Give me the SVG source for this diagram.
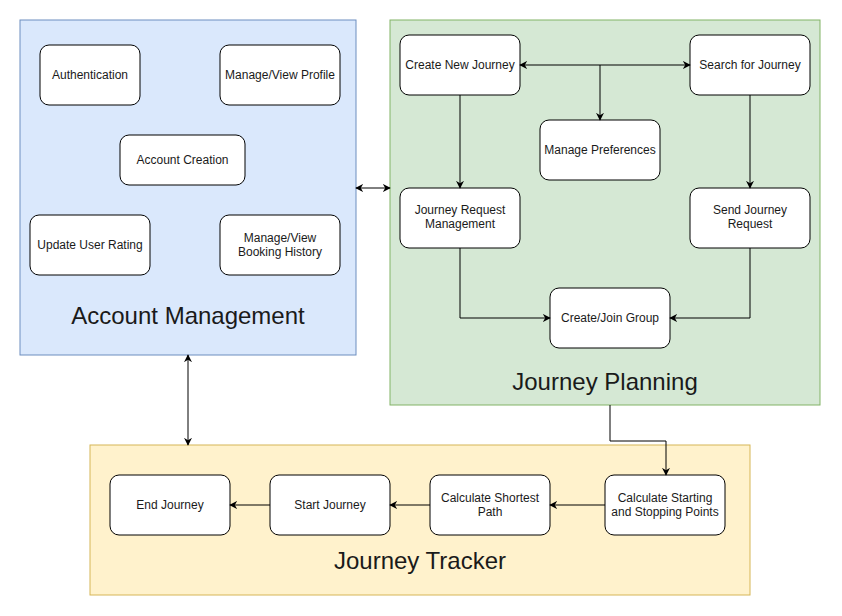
<svg xmlns="http://www.w3.org/2000/svg" width="842" height="616" viewBox="0 0 842 616">
<style>
.node rect{fill:#fff;stroke:#000;stroke-width:1}
.node text{font-family:"Liberation Sans",Arial,sans-serif;font-size:12px;fill:#1a1a1a;text-anchor:middle}
.title{font-family:"Liberation Sans",Arial,sans-serif;font-size:24px;fill:#1a1a1a;text-anchor:middle}
.edge{fill:none;stroke:#000;stroke-width:1}
</style>
<defs>
<marker id="arr" viewBox="0 0 10 10" refX="9" refY="5" markerWidth="8" markerHeight="8" orient="auto-start-reverse" markerUnits="userSpaceOnUse">
<path d="M0,0 L10,5 L0,10 L3,5 Z" fill="#000"/>
</marker>
</defs>
<rect width="842" height="616" fill="#fff"/>
<g id="account-management">
<rect x="20" y="20" width="336" height="335" fill="#dae8fc" stroke="#6c8ebf"/>
<text class="title" x="188" y="324">Account Management</text>
</g>
<g id="journey-planning">
<rect x="390" y="20" width="430" height="385" fill="#d5e8d4" stroke="#82b366"/>
<text class="title" x="605" y="390">Journey Planning</text>
</g>
<g id="journey-tracker">
<rect x="90" y="445" width="660" height="150" fill="#fff2cc" stroke="#d6b656"/>
<text class="title" x="420" y="569">Journey Tracker</text>
</g>
<g id="authentication" class="node"><rect x="40" y="45" width="100" height="60" rx="9"/><text x="90" y="79">Authentication</text></g>
<g id="manage-view-profile" class="node"><rect x="220" y="45" width="120" height="60" rx="9"/><text x="280" y="79">Manage/View Profile</text></g>
<g id="account-creation" class="node"><rect x="120" y="135" width="125" height="50" rx="9"/><text x="182.5" y="164">Account Creation</text></g>
<g id="update-user-rating" class="node"><rect x="30" y="215" width="120" height="60" rx="9"/><text x="90" y="249">Update User Rating</text></g>
<g id="booking-history" class="node"><rect x="220" y="215" width="120" height="60" rx="9"/><text x="280" y="242">Manage/View</text><text x="280" y="256">Booking History</text></g>
<g id="create-new-journey" class="node"><rect x="400" y="35" width="120" height="60" rx="9"/><text x="460" y="69">Create New Journey</text></g>
<g id="search-for-journey" class="node"><rect x="690" y="35" width="120" height="60" rx="9"/><text x="750" y="69">Search for Journey</text></g>
<g id="manage-preferences" class="node"><rect x="540" y="120" width="120" height="60" rx="9"/><text x="600" y="154">Manage Preferences</text></g>
<g id="journey-request-management" class="node"><rect x="400" y="188" width="120" height="60" rx="9"/><text x="460" y="214">Journey Request</text><text x="460" y="228">Management</text></g>
<g id="send-journey-request" class="node"><rect x="690" y="188" width="120" height="60" rx="9"/><text x="750" y="214">Send Journey</text><text x="750" y="228">Request</text></g>
<g id="create-join-group" class="node"><rect x="550" y="288" width="120" height="60" rx="9"/><text x="610" y="322">Create/Join Group</text></g>
<g id="end-journey" class="node"><rect x="110" y="475" width="120" height="60" rx="9"/><text x="170" y="509">End Journey</text></g>
<g id="start-journey" class="node"><rect x="270" y="475" width="120" height="60" rx="9"/><text x="330" y="509">Start Journey</text></g>
<g id="shortest-path" class="node"><rect x="430" y="475" width="120" height="60" rx="9"/><text x="490" y="502">Calculate Shortest</text><text x="490" y="516">Path</text></g>
<g id="starting-stopping" class="node"><rect x="605" y="475" width="120" height="60" rx="9"/><text x="665" y="502">Calculate Starting</text><text x="665" y="516">and Stopping Points</text></g>
<g id="connectors">
<path class="edge" d="M520,65 L690,65" marker-start="url(#arr)" marker-end="url(#arr)"/>
<path class="edge" d="M600,65 L600,120" stroke-width="1.6" marker-end="url(#arr)"/>
<path class="edge" d="M460,95 L460,188" marker-end="url(#arr)"/>
<path class="edge" d="M750,95 L750,188" marker-end="url(#arr)"/>
<path class="edge" d="M460,248 L460,318 L550,318" marker-end="url(#arr)"/>
<path class="edge" d="M750,248 L750,318 L670,318" marker-end="url(#arr)"/>
<path class="edge" d="M356,188 L390,188" marker-start="url(#arr)" marker-end="url(#arr)"/>
<path class="edge" d="M188,355 L188,445" marker-start="url(#arr)" marker-end="url(#arr)"/>
<path class="edge" d="M610,405 L610,441 L666,441 L666,475" marker-end="url(#arr)"/>
<path class="edge" d="M605,505 L550,505" marker-end="url(#arr)"/>
<path class="edge" d="M430,505 L390,505" marker-end="url(#arr)"/>
<path class="edge" d="M270,505 L230,505" marker-end="url(#arr)"/>
</g>
</svg>
